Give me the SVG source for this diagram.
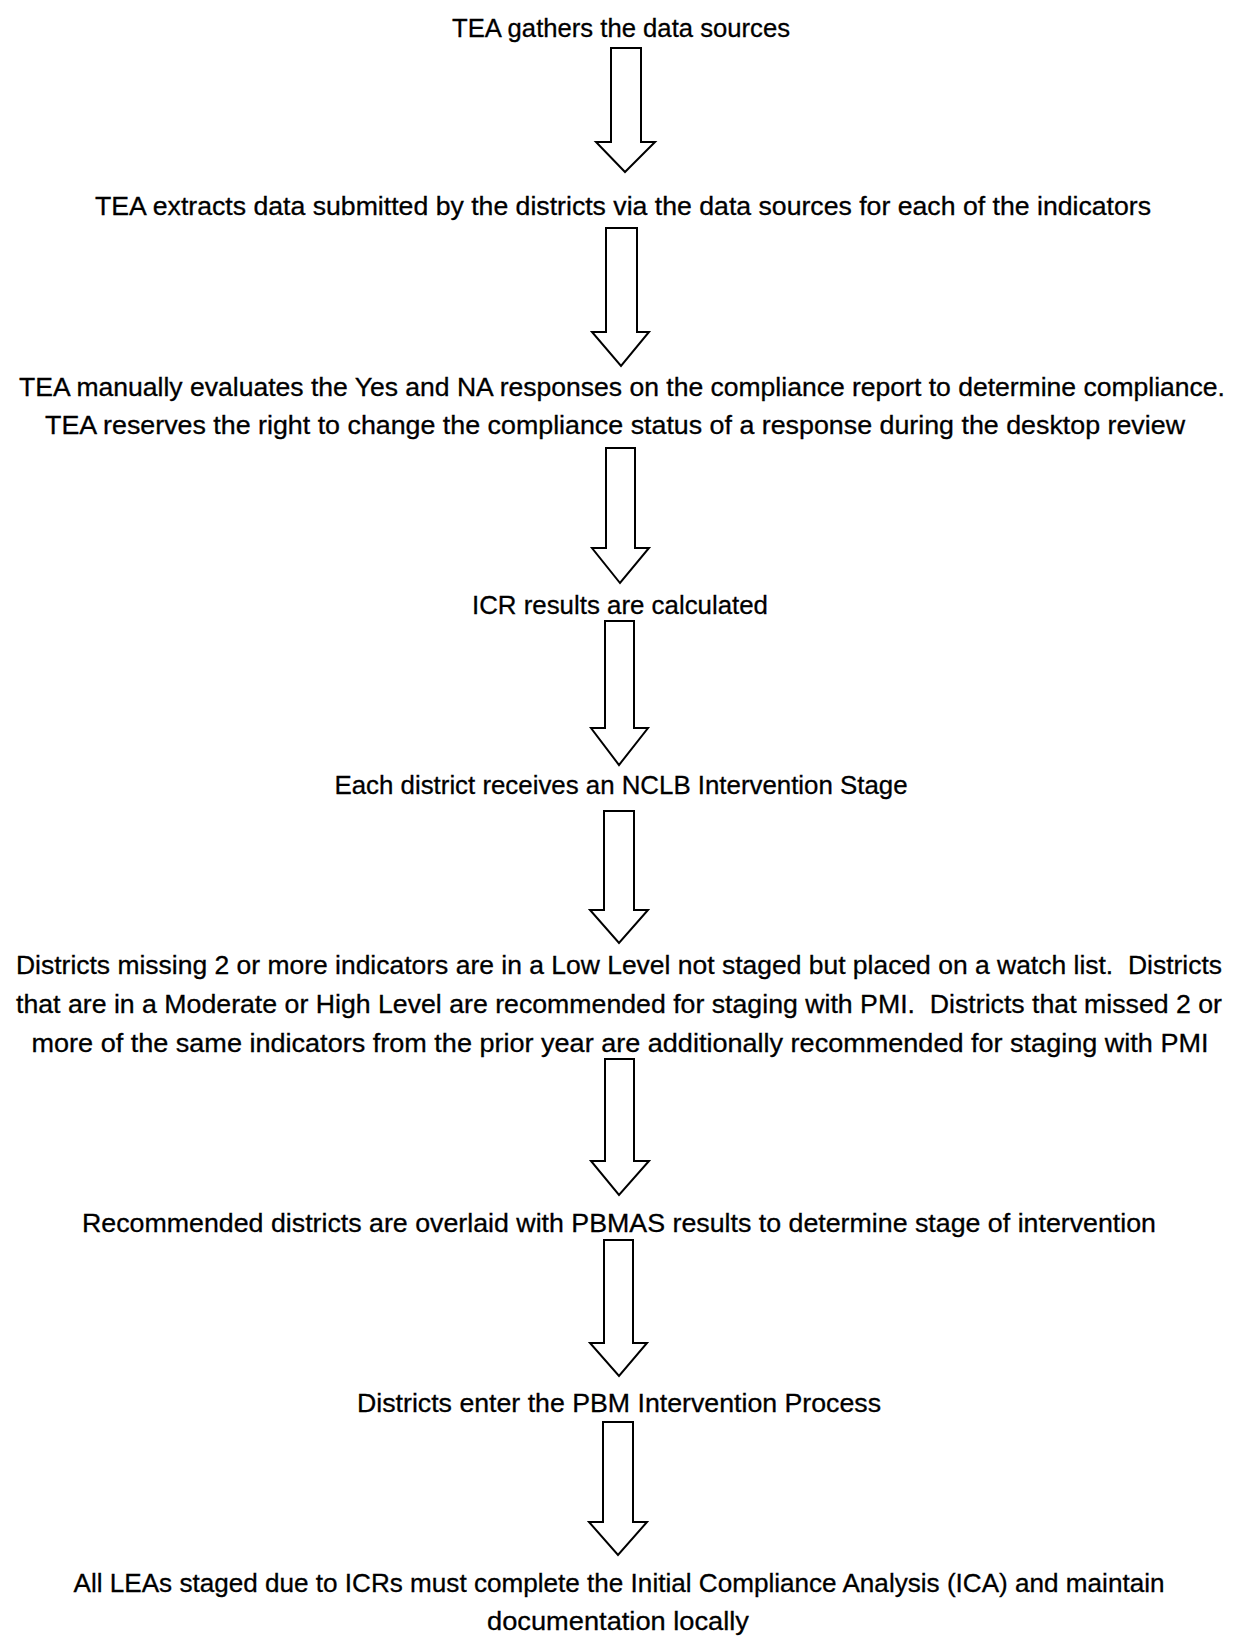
<svg xmlns="http://www.w3.org/2000/svg" width="1235" height="1648" viewBox="0 0 1235 1648">
<style>
text{font-family:"Liberation Sans","Arial",sans-serif;font-size:26px;fill:#000;text-anchor:middle;white-space:pre;stroke:#000;stroke-width:0.3}
.arrow{fill:#fff;stroke:#000;stroke-width:2;stroke-linejoin:miter}
</style>
<rect width="1235" height="1648" fill="#fff"/>
<g id="connectors">
<polygon class="arrow" points="611,48 641,48 641,142 655,142 625,172 596,142 611,142"/>
<polygon class="arrow" points="606,228 637,228 637,332 649,332 621,366 592,332 606,332"/>
<polygon class="arrow" points="606,448 635,448 635,548 649,548 620,583 592,548 606,548"/>
<polygon class="arrow" points="605,621 634,621 634,728 648,728 619,765 591,728 605,728"/>
<polygon class="arrow" points="604,811 634,811 634,910 648,910 619,943 590,910 604,910"/>
<polygon class="arrow" points="605,1059 634,1059 634,1161 649,1161 619,1195 591,1161 605,1161"/>
<polygon class="arrow" points="604,1240 633,1240 633,1343 647,1343 619,1376 590,1343 604,1343"/>
<polygon class="arrow" points="603,1422 633,1422 633,1522 647,1522 618,1555 589,1522 603,1522"/>
</g>
<g id="n1"><text x="621" y="37" textLength="338" lengthAdjust="spacingAndGlyphs">TEA gathers the data sources</text></g>
<g id="n2"><text x="623" y="215" textLength="1056" lengthAdjust="spacingAndGlyphs">TEA extracts data submitted by the districts via the data sources for each of the indicators</text></g>
<g id="n3">
<text x="622" y="396" textLength="1206" lengthAdjust="spacingAndGlyphs">TEA manually evaluates the Yes and NA responses on the compliance report to determine compliance.</text>
<text x="615" y="434" textLength="1140" lengthAdjust="spacingAndGlyphs">TEA reserves the right to change the compliance status of a response during the desktop review</text>
</g>
<g id="n4"><text x="620" y="614" textLength="296" lengthAdjust="spacingAndGlyphs">ICR results are calculated</text></g>
<g id="n5"><text x="621" y="794" textLength="573" lengthAdjust="spacingAndGlyphs">Each district receives an NCLB Intervention Stage</text></g>
<g id="n6">
<text x="619" y="974" textLength="1206" lengthAdjust="spacingAndGlyphs">Districts missing 2 or more indicators are in a Low Level not staged but placed on a watch list.  Districts</text>
<text x="619" y="1013" textLength="1206" lengthAdjust="spacingAndGlyphs">that are in a Moderate or High Level are recommended for staging with PMI.  Districts that missed 2 or</text>
<text x="620" y="1052" textLength="1177" lengthAdjust="spacingAndGlyphs">more of the same indicators from the prior year are additionally recommended for staging with PMI</text>
</g>
<g id="n7"><text x="619" y="1232" textLength="1074" lengthAdjust="spacingAndGlyphs">Recommended districts are overlaid with PBMAS results to determine stage of intervention</text></g>
<g id="n8"><text x="619" y="1412" textLength="524" lengthAdjust="spacingAndGlyphs">Districts enter the PBM Intervention Process</text></g>
<g id="n9">
<text x="619" y="1592" textLength="1091" lengthAdjust="spacingAndGlyphs">All LEAs staged due to ICRs must complete the Initial Compliance Analysis (ICA) and maintain</text>
<text x="618" y="1630" textLength="262" lengthAdjust="spacingAndGlyphs">documentation locally</text>
</g>
</svg>
